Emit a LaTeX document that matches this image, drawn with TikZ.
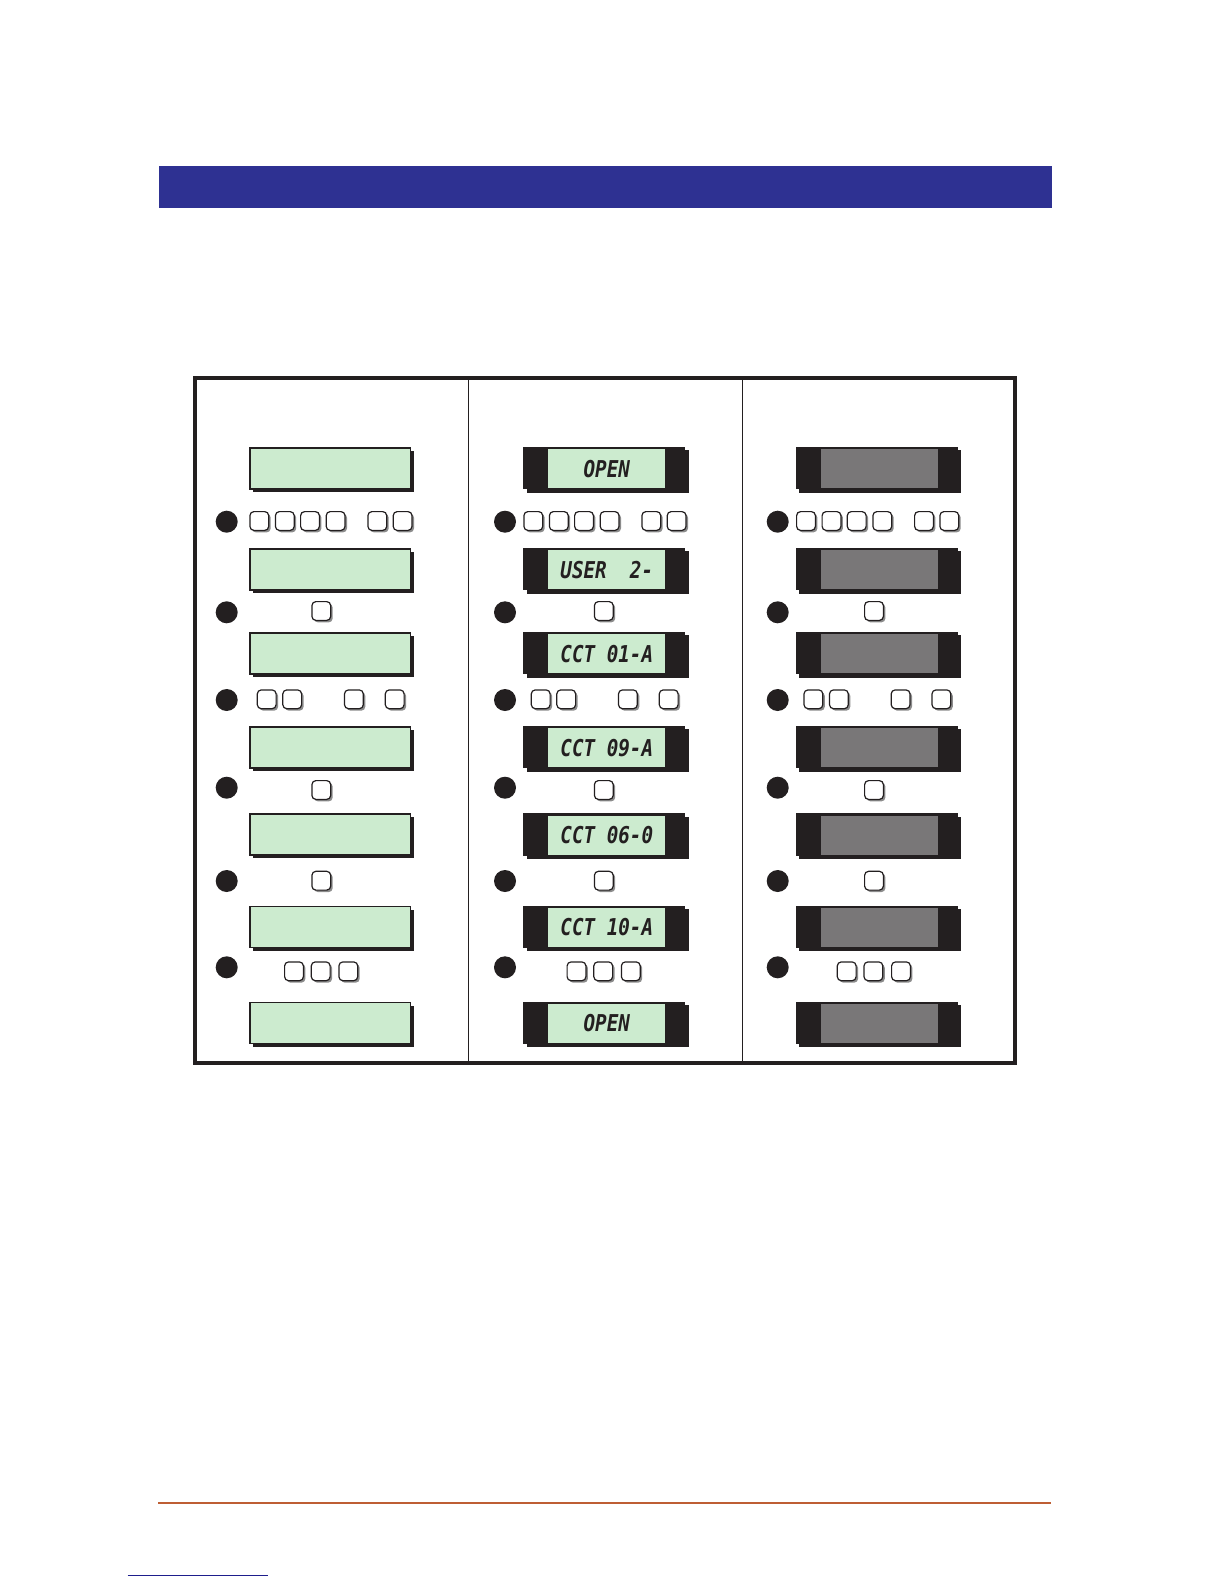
\documentclass[tikz,border=0pt]{standalone}
\usepackage{fontspec}
\usetikzlibrary{shadows}
\newfontfamily\lcdfont[FakeStretch=0.83]{DejaVu Sans Mono}
\definecolor{barblue}{RGB}{46,49,146}
\definecolor{lcdgreen}{RGB}{204,235,207}
\definecolor{inkblack}{RGB}{35,31,32}
\definecolor{lcdgray}{RGB}{121,119,120}
\definecolor{rulebrown}{RGB}{190,94,52}
\definecolor{linkblue}{RGB}{30,30,140}

\begin{document}
\begin{tikzpicture}[x=0.5pt,y=-0.5pt,
  lcd/.style={draw=inkblack,line width=0.8pt,fill=lcdgreen,minimum width=80.2pt,minimum height=20.5pt,inner sep=0pt,
    drop shadow={shadow xshift=1.6pt,shadow yshift=-1.6pt,fill=inkblack,opacity=1}},
  lcdcase/.style={fill=inkblack,minimum width=81pt,minimum height=21.25pt,inner sep=0pt,
    drop shadow={shadow xshift=1.6pt,shadow yshift=-1.6pt,fill=inkblack,opacity=1}},
  window/.style={minimum width=58.5pt,minimum height=19.5pt,inner sep=0pt,
    font=\lcdfont\bfseries\itshape\fontsize{11.6}{12}\selectfont,text=inkblack},
  btn/.style={draw=inkblack,line width=0.6pt,fill=white,rounded corners=2pt,minimum size=9.4pt,inner sep=0pt,
    drop shadow={shadow xshift=1pt,shadow yshift=-1pt,fill=black!45,opacity=1}},
  led/.style={circle,fill=inkblack,minimum size=11pt,inner sep=0pt}]
\fill[white] (0,0) rectangle (1224,1584);
\useasboundingbox (0,0) rectangle (1224,1584);

% header bar and page rules
\fill[barblue] (158.5,166) rectangle (1052.3,208);
\draw[rulebrown,line width=1pt] (158,1503) -- (1051,1503);
\draw[linkblue,line width=0.6pt] (127.6,1575.3) -- (268.4,1575.3);

% table frame
\draw[inkblack,line width=2pt] (194.7,377.7) rectangle (1015,1063.3);
\draw[inkblack,line width=0.6pt] (468.3,377.7) -- (468.3,1063.3) (742.3,377.7) -- (742.3,1063.3);

% displays
\foreach \r/\y in {1/468.2,2/569.2,3/653.2,4/747.2,5/834.7,6/926.8,7/1022.8}{
  \node[lcd] (a\r) at (330.3,\y) {};
  \node[lcdcase] (b\r) at (604.3,\y) {};
  \node[lcdcase] (c\r) at (877,\y) {};
  \node[window,fill=lcdgray] (cw\r) at ([xshift=1.25pt,yshift=-0.25pt]c\r.center) {};
}
\foreach \r/\txt in {1/OPEN,2/USER~~2-,3/CCT~01-A,4/CCT~09-A,5/CCT~06-0,6/CCT~10-A,7/OPEN}
  \node[window,fill=lcdgreen] (bw\r) at ([xshift=1.25pt,yshift=-0.25pt]b\r.center) {\txt};

% key rows
\foreach \c/\xo/\xd/\s in {a/249.3/226.7/0,b/523.3/505/8.5,c/796/777.7/6}{
  \foreach \r/\y in {1/521.7,2/612.3,3/700,4/787.7,5/881,6/967.3}
    \node[led] (\c dot\r) at (\xd,\y) {};
  \foreach \k/\dx in {1/10,2/35.5,3/60.7,4/86.3,5/128,6/153.3}
    \node[btn] (\c key1\k) at (\xo+\dx,521) {};
  \node[btn] (\c key21) at (\xo+72+\s,611) {};
  \foreach \k/\dx in {1/17.4,2/42.9,3/104.6,4/145.4}
    \node[btn] (\c key3\k) at (\xo+\dx,699.3) {};
  \node[btn] (\c key41) at (\xo+72+\s,790) {};
  \node[btn] (\c key51) at (\xo+72+\s,880.7) {};
  \foreach \k/\dx in {1/44.7,2/71.4,3/99}
    \node[btn] (\c key6\k) at (\xo+\dx+\s,971.3) {};
}
\end{tikzpicture}
\end{document}
